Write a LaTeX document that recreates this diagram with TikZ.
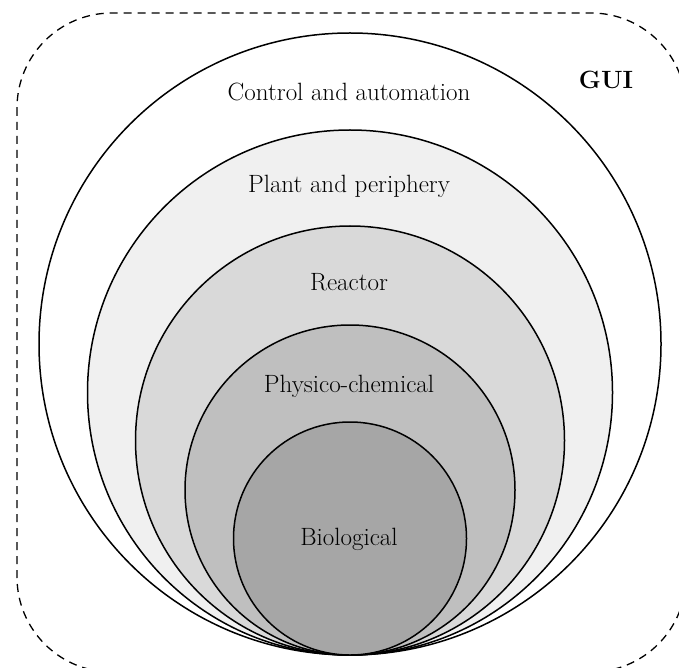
\documentclass[tikz,border=0pt]{standalone}
\usetikzlibrary{calc}

\definecolor{plantgray}{HTML}{F0F0F0}
\definecolor{reactorgray}{HTML}{D9D9D9}
\definecolor{physgray}{HTML}{BFBFBF}
\definecolor{biogray}{HTML}{A6A6A6}

\begin{document}
\begin{tikzpicture}[x=1pt, y=-1pt,
	layer/.style={circle, draw=black, line width=1.5pt, inner sep=0pt, outer sep=0pt},
	lbl/.style={font=\fontsize{25}{30}\selectfont},
	frame/.style={draw=black, dashed, line width=1.3pt, dash pattern=on 8pt off 6pt, rounded corners=95pt}]

	\useasboundingbox (0,0) rectangle (679,668);

	\coordinate (gui0) at (17,13);
	\coordinate (gui1) at (686,672);

	\draw[frame] (gui0) rectangle (gui1);

	% nested layers, all touching at the bottom
	\node[layer, fill=white, minimum size=622pt] (control) at (350,344) {};
	\node[layer, fill=plantgray, minimum size=525pt] (plant) at (350,392.5) {};
	\node[layer, fill=reactorgray, minimum size=429pt] (reactor) at (350,440.5) {};
	\node[layer, fill=physgray, minimum size=330pt] (physico) at (350,490) {};
	\node[layer, fill=biogray, minimum size=233pt] (bio) at (350,538.5) {};

	\node[lbl] (controltxt) at (349,92) {Control and automation};
	\node[lbl] (planttxt) at (349,186) {Plant and periphery};
	\node[lbl] (reactortxt) at (349,282) {Reactor};
	\node[lbl] (physicotxt) at (349,386) {Physico-chemical};
	\node[lbl] (biotxt) at (349,539) {Biological};
	\node[lbl, font=\fontsize{25}{30}\selectfont\bfseries] (guitxt) at (606,80) {GUI};

\end{tikzpicture}
\end{document}
